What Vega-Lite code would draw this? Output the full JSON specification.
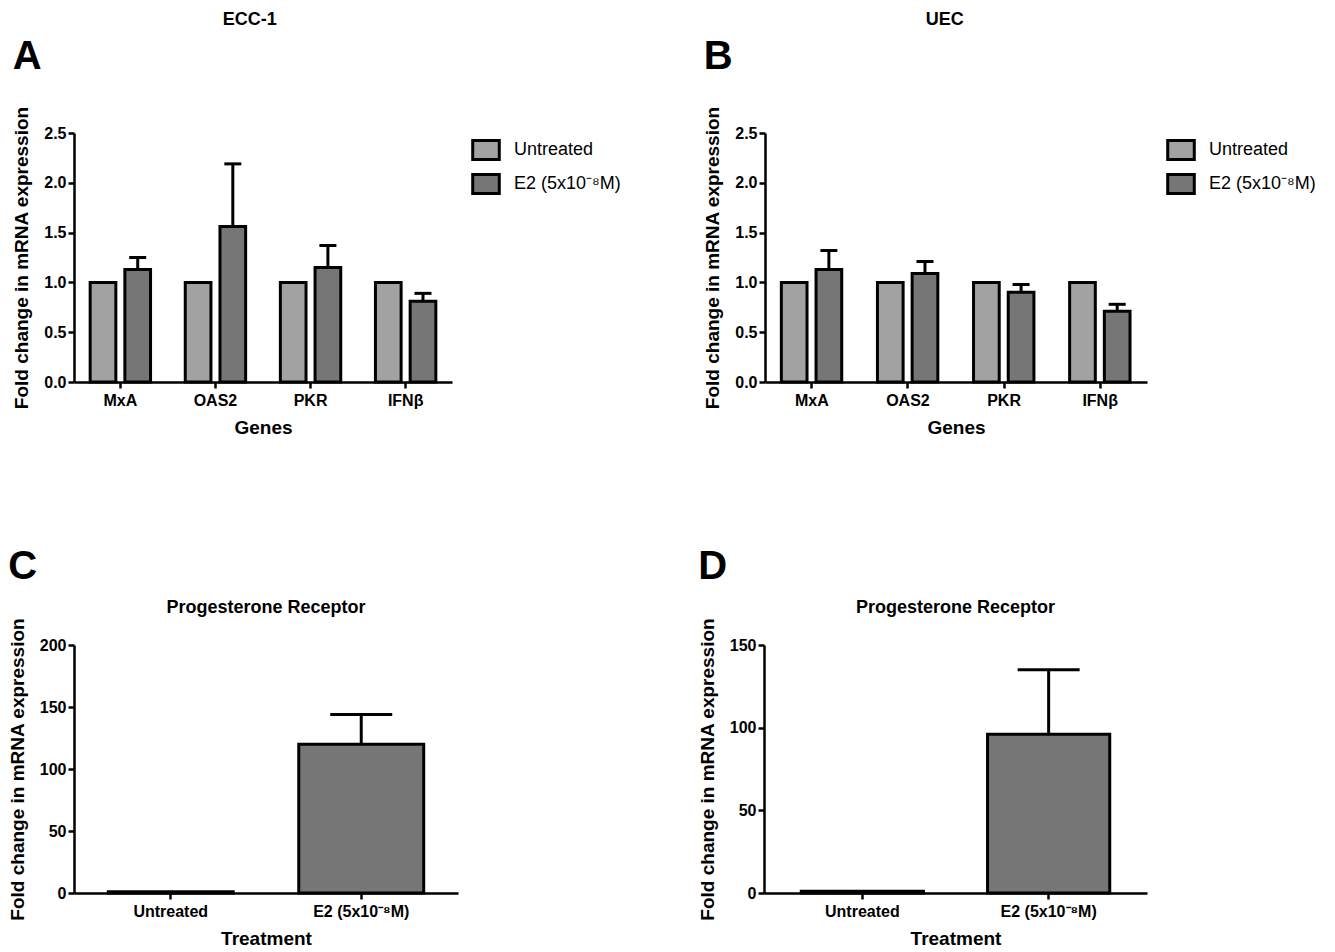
{
  "$schema": "https://vega.github.io/schema/vega-lite/v6.json",
  "padding": {"left": 8, "top": 11, "right": 5, "bottom": 2},
  "datasets": {
    "genes": [
      {"cell": "ECC-1", "gene": "MxA", "treatment": "Untreated", "mean": 1.0},
      {"cell": "ECC-1", "gene": "MxA", "treatment": "E2 (5x10⁻⁸M)", "mean": 1.13, "upper": 1.25},
      {"cell": "ECC-1", "gene": "OAS2", "treatment": "Untreated", "mean": 1.0},
      {"cell": "ECC-1", "gene": "OAS2", "treatment": "E2 (5x10⁻⁸M)", "mean": 1.56, "upper": 2.19},
      {"cell": "ECC-1", "gene": "PKR", "treatment": "Untreated", "mean": 1.0},
      {"cell": "ECC-1", "gene": "PKR", "treatment": "E2 (5x10⁻⁸M)", "mean": 1.15, "upper": 1.37},
      {"cell": "ECC-1", "gene": "IFNβ", "treatment": "Untreated", "mean": 1.0},
      {"cell": "ECC-1", "gene": "IFNβ", "treatment": "E2 (5x10⁻⁸M)", "mean": 0.81, "upper": 0.89},
      {"cell": "UEC", "gene": "MxA", "treatment": "Untreated", "mean": 1.0},
      {"cell": "UEC", "gene": "MxA", "treatment": "E2 (5x10⁻⁸M)", "mean": 1.13, "upper": 1.32},
      {"cell": "UEC", "gene": "OAS2", "treatment": "Untreated", "mean": 1.0},
      {"cell": "UEC", "gene": "OAS2", "treatment": "E2 (5x10⁻⁸M)", "mean": 1.09, "upper": 1.21},
      {"cell": "UEC", "gene": "PKR", "treatment": "Untreated", "mean": 1.0},
      {"cell": "UEC", "gene": "PKR", "treatment": "E2 (5x10⁻⁸M)", "mean": 0.90, "upper": 0.98},
      {"cell": "UEC", "gene": "IFNβ", "treatment": "Untreated", "mean": 1.0},
      {"cell": "UEC", "gene": "IFNβ", "treatment": "E2 (5x10⁻⁸M)", "mean": 0.71, "upper": 0.78}
    ],
    "pr": [
      {"cell": "ECC-1", "treatment": "Untreated", "mean": 1},
      {"cell": "ECC-1", "treatment": "E2 (5x10⁻⁸M)", "mean": 120, "upper": 144},
      {"cell": "UEC", "treatment": "Untreated", "mean": 1},
      {"cell": "UEC", "treatment": "E2 (5x10⁻⁸M)", "mean": 96, "upper": 135}
    ]
  },
  "spacing": 109,
  "resolve": {"scale": {"color": "independent", "x": "independent", "y": "independent"}, "legend": {"color": "independent"}},
  "vconcat": [
    {
      "spacing": 76,
      "resolve": {"scale": {"color": "independent", "x": "independent", "y": "independent"}, "legend": {"color": "independent"}},
      "hconcat": [
        {
          "title": {"text": "ECC-1", "anchor": "start", "dx": 210, "fontSize": 18, "fontWeight": "bold", "offset": 8},
          "resolve": {"scale": {"color": "independent", "x": "independent", "y": "independent"}, "legend": {"color": "independent"}},
          "vconcat": [
            {
              "title": {"text": "A", "anchor": "start", "frame": "bounds", "fontSize": 40, "fontWeight": "bold", "offset": 29},
              "width": 378, "height": 249,
              "data": {"name": "genes"},
              "transform": [{"filter": "datum.cell === 'ECC-1'"}],
              "encoding": {
                "x": {"field": "gene", "type": "nominal", "sort": ["MxA", "OAS2", "PKR", "IFNβ"], "scale": {"paddingInner": 0.365, "paddingOuter": 0.17}, "axis": {"title": "Genes"}},
                "xOffset": {"field": "treatment", "type": "nominal", "scale": {"domain": ["Untreated", "E2 (5x10⁻⁸M)"], "paddingInner": 0.26, "paddingOuter": 0}}
              },
              "layer": [
                {
                  "mark": {"type": "bar", "stroke": "black", "strokeWidth": 3},
                  "encoding": {
                    "y": {"field": "mean", "type": "quantitative", "scale": {"domain": [0, 2.5], "nice": false}, "axis": {"values": [0, 0.5, 1, 1.5, 2, 2.5], "format": ".1f", "title": "Fold change in mRNA expression"}},
                    "color": {"field": "treatment", "type": "nominal", "scale": {"domain": ["Untreated", "E2 (5x10⁻⁸M)"], "range": ["#a2a2a2", "#767676"]},
                      "legend": {"title": null, "orient": "right", "offset": 17, "padding": 6, "symbolType": "M-1.4,-1H1.4V1H-1.4Z", "symbolSize": 360, "symbolStrokeColor": "black", "symbolStrokeWidth": 3, "rowPadding": 2, "labelFontSize": 18, "labelFontWeight": "normal", "labelOffset": 17, "labelColor": "black"}}
                  }
                },
                {
                  "transform": [{"filter": "isValid(datum.upper)"}],
                  "mark": {"type": "rule", "strokeWidth": 3, "color": "black"},
                  "encoding": {"y": {"field": "mean", "type": "quantitative", "axis": {"title": "Fold change in mRNA expression"}}, "y2": {"field": "upper"}}
                },
                {
                  "transform": [{"filter": "isValid(datum.upper)"}],
                  "mark": {"type": "tick", "thickness": 3, "size": 17, "color": "black", "opacity": 1},
                  "encoding": {"y": {"field": "upper", "type": "quantitative", "axis": {"title": "Fold change in mRNA expression"}}}
                }
              ]
            }
          ]
        },
        {
          "title": {"text": "UEC", "anchor": "start", "dx": 222, "fontSize": 18, "fontWeight": "bold", "offset": 8},
          "resolve": {"scale": {"color": "independent", "x": "independent", "y": "independent"}, "legend": {"color": "independent"}},
          "vconcat": [
            {
              "title": {"text": "B", "anchor": "start", "frame": "bounds", "fontSize": 40, "fontWeight": "bold", "offset": 29},
              "width": 382, "height": 249,
              "data": {"name": "genes"},
              "transform": [{"filter": "datum.cell === 'UEC'"}],
              "encoding": {
                "x": {"field": "gene", "type": "nominal", "sort": ["MxA", "OAS2", "PKR", "IFNβ"], "scale": {"paddingInner": 0.365, "paddingOuter": 0.17}, "axis": {"title": "Genes"}},
                "xOffset": {"field": "treatment", "type": "nominal", "scale": {"domain": ["Untreated", "E2 (5x10⁻⁸M)"], "paddingInner": 0.26, "paddingOuter": 0}}
              },
              "layer": [
                {
                  "mark": {"type": "bar", "stroke": "black", "strokeWidth": 3},
                  "encoding": {
                    "y": {"field": "mean", "type": "quantitative", "scale": {"domain": [0, 2.5], "nice": false}, "axis": {"values": [0, 0.5, 1, 1.5, 2, 2.5], "format": ".1f", "title": "Fold change in mRNA expression"}},
                    "color": {"field": "treatment", "type": "nominal", "scale": {"domain": ["Untreated", "E2 (5x10⁻⁸M)"], "range": ["#a2a2a2", "#767676"]},
                      "legend": {"title": null, "orient": "right", "offset": 17, "padding": 6, "symbolType": "M-1.4,-1H1.4V1H-1.4Z", "symbolSize": 360, "symbolStrokeColor": "black", "symbolStrokeWidth": 3, "rowPadding": 2, "labelFontSize": 18, "labelFontWeight": "normal", "labelOffset": 17, "labelColor": "black"}}
                  }
                },
                {
                  "transform": [{"filter": "isValid(datum.upper)"}],
                  "mark": {"type": "rule", "strokeWidth": 3, "color": "black"},
                  "encoding": {"y": {"field": "mean", "type": "quantitative", "axis": {"title": "Fold change in mRNA expression"}}, "y2": {"field": "upper"}}
                },
                {
                  "transform": [{"filter": "isValid(datum.upper)"}],
                  "mark": {"type": "tick", "thickness": 3, "size": 17, "color": "black", "opacity": 1},
                  "encoding": {"y": {"field": "upper", "type": "quantitative", "axis": {"title": "Fold change in mRNA expression"}}}
                }
              ]
            }
          ]
        }
      ]
    },
    {
      "spacing": 240,
      "resolve": {"scale": {"color": "independent", "x": "independent", "y": "independent"}, "legend": {"color": "independent"}},
      "hconcat": [
        {
          "title": {"text": "C", "anchor": "start", "fontSize": 40, "fontWeight": "bold", "offset": 12},
          "resolve": {"scale": {"color": "independent", "x": "independent", "y": "independent"}, "legend": {"color": "independent"}},
          "vconcat": [
            {
              "title": {"text": "Progesterone Receptor", "anchor": "middle", "frame": "group", "fontSize": 18, "fontWeight": "bold", "offset": 1},
              "width": 384, "height": 248,
              "data": {"name": "pr"},
              "transform": [{"filter": "datum.cell === 'ECC-1'"}],
              "encoding": {
                "x": {"field": "treatment", "type": "nominal", "sort": ["Untreated", "E2 (5x10⁻⁸M)"], "scale": {"paddingInner": 0.344, "paddingOuter": 0.18}, "axis": {"title": "Treatment"}}
              },
              "layer": [
                {
                  "mark": {"type": "bar", "stroke": "black", "strokeWidth": 3},
                  "encoding": {
                    "y": {"field": "mean", "type": "quantitative", "scale": {"domain": [0, 200], "nice": false}, "axis": {"values": [0, 50, 100, 150, 200], "title": "Fold change in mRNA expression"}},
                    "color": {"field": "treatment", "type": "nominal", "scale": {"domain": ["Untreated", "E2 (5x10⁻⁸M)"], "range": ["#a2a2a2", "#767676"]}, "legend": null}
                  }
                },
                {
                  "transform": [{"filter": "isValid(datum.upper)"}],
                  "mark": {"type": "rule", "strokeWidth": 3, "color": "black"},
                  "encoding": {"y": {"field": "mean", "type": "quantitative", "axis": {"title": "Fold change in mRNA expression"}}, "y2": {"field": "upper"}}
                },
                {
                  "transform": [{"filter": "isValid(datum.upper)"}],
                  "mark": {"type": "tick", "thickness": 3, "size": 62, "color": "black", "opacity": 1},
                  "encoding": {"y": {"field": "upper", "type": "quantitative", "axis": {"title": "Fold change in mRNA expression"}}}
                }
              ]
            }
          ]
        },
        {
          "title": {"text": "D", "anchor": "start", "fontSize": 40, "fontWeight": "bold", "offset": 12},
          "resolve": {"scale": {"color": "independent", "x": "independent", "y": "independent"}, "legend": {"color": "independent"}},
          "vconcat": [
            {
              "title": {"text": "Progesterone Receptor", "anchor": "middle", "frame": "group", "fontSize": 18, "fontWeight": "bold", "offset": 1},
              "width": 383, "height": 248,
              "data": {"name": "pr"},
              "transform": [{"filter": "datum.cell === 'UEC'"}],
              "encoding": {
                "x": {"field": "treatment", "type": "nominal", "sort": ["Untreated", "E2 (5x10⁻⁸M)"], "scale": {"paddingInner": 0.344, "paddingOuter": 0.2}, "axis": {"title": "Treatment"}}
              },
              "layer": [
                {
                  "mark": {"type": "bar", "stroke": "black", "strokeWidth": 3},
                  "encoding": {
                    "y": {"field": "mean", "type": "quantitative", "scale": {"domain": [0, 150], "nice": false}, "axis": {"values": [0, 50, 100, 150], "title": "Fold change in mRNA expression"}},
                    "color": {"field": "treatment", "type": "nominal", "scale": {"domain": ["Untreated", "E2 (5x10⁻⁸M)"], "range": ["#a2a2a2", "#767676"]}, "legend": null}
                  }
                },
                {
                  "transform": [{"filter": "isValid(datum.upper)"}],
                  "mark": {"type": "rule", "strokeWidth": 3, "color": "black"},
                  "encoding": {"y": {"field": "mean", "type": "quantitative", "axis": {"title": "Fold change in mRNA expression"}}, "y2": {"field": "upper"}}
                },
                {
                  "transform": [{"filter": "isValid(datum.upper)"}],
                  "mark": {"type": "tick", "thickness": 3, "size": 62, "color": "black", "opacity": 1},
                  "encoding": {"y": {"field": "upper", "type": "quantitative", "axis": {"title": "Fold change in mRNA expression"}}}
                }
              ]
            }
          ]
        }
      ]
    }
  ],
  "config": {
    "font": "Liberation Sans",
    "view": {"stroke": null},
    "title": {"color": "black", "font": "Liberation Sans"},
    "axis": {
      "grid": false,
      "domainColor": "black", "domainWidth": 2.5,
      "tickColor": "black", "tickWidth": 2.5, "tickSize": 6,
      "labelColor": "black", "labelFont": "Liberation Sans", "labelFontWeight": "bold", "labelFontSize": 16, "labelPadding": 2,
      "titleColor": "black", "titleFont": "Liberation Sans", "titleFontWeight": "bold", "titleFontSize": 19
    },
    "axisX": {"labelAngle": 0, "titlePadding": 10, "labelPadding": 4},
    "axisY": {"titlePadding": 12},
    "legend": {"labelFont": "Liberation Sans"}
  }
}
